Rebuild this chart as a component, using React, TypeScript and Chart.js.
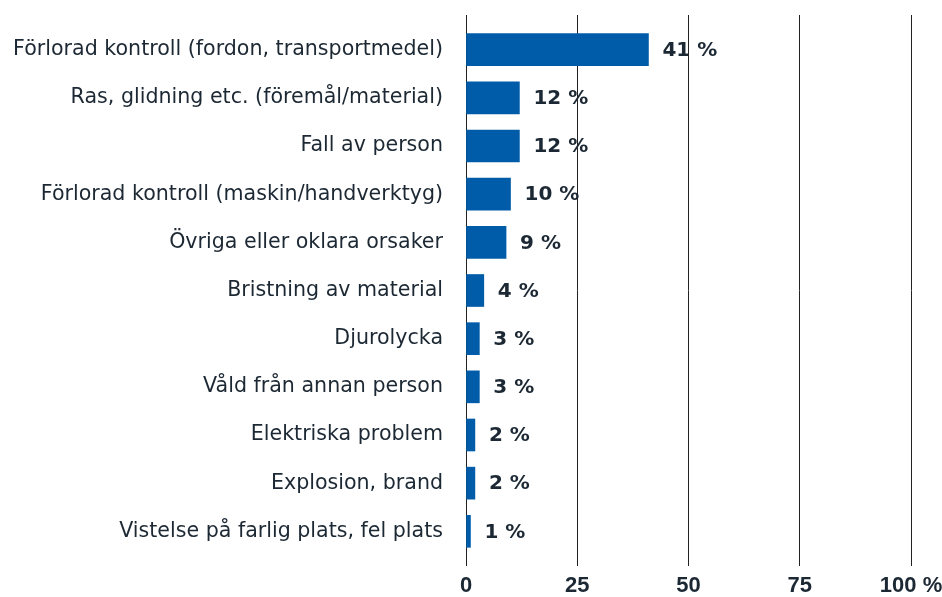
import React, { useEffect, useRef } from "react";
import { Chart, registerables } from "chart.js";

Chart.register(...registerables);

const categories = [
  "Förlorad kontroll (fordon, transportmedel)",
  "Ras, glidning etc. (föremål/material)",
  "Fall av person",
  "Förlorad kontroll (maskin/handverktyg)",
  "Övriga eller oklara orsaker",
  "Bristning av material",
  "Djurolycka",
  "Våld från annan person",
  "Elektriska problem",
  "Explosion, brand",
  "Vistelse på farlig plats, fel plats",
];
const values = [41, 12, 12, 10, 9, 4, 3, 3, 2, 2, 1];
const xTicks = [0, 25, 50, 75, 100];

const TEXT = "#1c2833";
const BAR = "#005ca9";
const LABEL_FONT = "'DejaVu Sans', sans-serif";
const TICK_FONT = "'Liberation Sans', Arial, sans-serif";

const labelPlugin = {
  id: "valueLabels",
  afterDatasetsDraw(chart: any) {
    const ctx = chart.ctx;
    const meta = chart.getDatasetMeta(0);
    ctx.save();
    ctx.font = `bold 20px ${LABEL_FONT}`;
    ctx.fillStyle = TEXT;
    ctx.textAlign = "left";
    ctx.textBaseline = "middle";
    meta.data.forEach((bar: any, i: number) => {
      ctx.fillText(`${values[i]} %`, bar.x + 14, bar.y + 1);
    });
    ctx.restore();
  },
};

const zeroPad = (axis: any) => {
  axis.paddingTop = 0;
  axis.paddingBottom = 0;
  axis.paddingLeft = 0;
  axis.paddingRight = 0;
};

export default function App() {
  const ref = useRef<HTMLCanvasElement | null>(null);
  useEffect(() => {
    document.body.style.margin = "0";
    const chart = new Chart(ref.current!, {
      type: "bar",
      data: {
        datasets: [
          {
            data: values.map((v, i) => ({ x: v, y: i })),
            backgroundColor: BAR,
            barThickness: 32,
          },
        ],
      },
      options: {
        indexAxis: "y",
        animation: false,
        responsive: false,
        layout: { padding: { top: 15, right: 31, left: 0, bottom: 0 } },
        plugins: { legend: { display: false }, tooltip: { enabled: false } },
        scales: {
          x: {
            type: "linear",
            min: 0,
            max: 100,
            afterBuildTicks: (axis: any) => {
              axis.ticks = xTicks.map((v) => ({ value: v }));
            },
            afterFit: (axis: any) => {
              axis.height = 31;
              zeroPad(axis);
            },
            grid: { color: "#222", lineWidth: 1, drawTicks: false },
            border: { display: false },
            ticks: {
              padding: 7,
              color: TEXT,
              font: { family: TICK_FONT, size: 22, weight: "bold" },
              callback: (v: any) => (v === 100 ? "100 %" : String(v)),
              maxRotation: 0,
            },
          },
          y: {
            type: "linear",
            reverse: true,
            offset: false,
            min: -0.72,
            max: 10.72,
            afterBuildTicks: (axis: any) => {
              axis.ticks = categories.map((_, i) => ({ value: i }));
            },
            afterFit: (axis: any) => {
              axis.width = 466;
              zeroPad(axis);
            },
            grid: { display: false, drawTicks: false, offset: false },
            border: { display: false },
            ticks: {
              padding: 23,
              color: TEXT,
              font: { family: LABEL_FONT, size: 20.6 },
              callback: (v: any) => categories[v as number] ?? "",
            },
          },
        },
      },
      plugins: [labelPlugin],
    } as any);
    return () => chart.destroy();
  }, []);
  return (
    <div style={{ width: 942, height: 597 }}>
      <canvas ref={ref} width={942} height={597} style={{ display: "block" }} />
    </div>
  );
}
